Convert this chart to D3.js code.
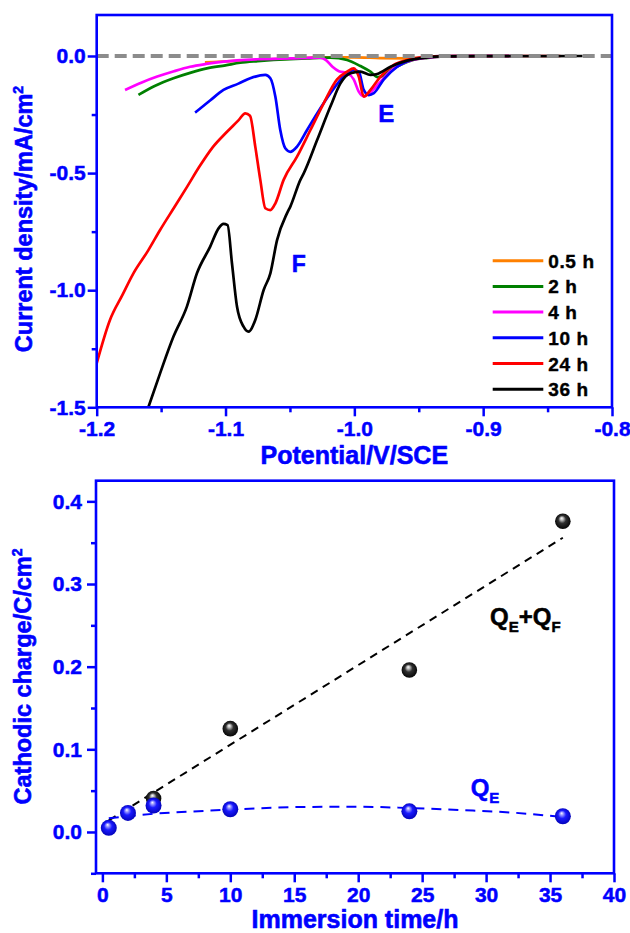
<!DOCTYPE html>
<html>
<head>
<meta charset="utf-8">
<script src="https://cdn.jsdelivr.net/npm/d3@7"></script>
<style>
  html, body { margin: 0; padding: 0; background: #fff; }
  svg { display: block; }
  text { font-family: "Liberation Sans", Arial, Helvetica, sans-serif; font-weight: bold; }
</style>
</head>
<body>
<svg id="chart" width="630" height="933"></svg>
<script>
// ---------------- DATA ----------------
// Top panel: polarization curves, [potential V vs SCE, current density mA/cm^2]
const seriesNames = ["0.5 h", "2 h", "4 h", "10 h", "24 h", "36 h"];
const seriesColors = ["#ff8000", "#008000", "#ff00ff", "#0000ff", "#ff0000", "#000000"];

const curve05h = [[-1.116,-0.027],[-1.095,-0.022],[-1.076,-0.017],[-1.05,-0.011],[-1.024,-0.006],[-1.0,-0.006],
  [-0.98,-0.009],[-0.96,-0.010],[-0.95,-0.008],[-0.94,-0.003],[-0.92,-0.001],[-0.88,0]];
const curve2h = [[-1.1676,-0.166],[-1.155,-0.128],[-1.1404,-0.095],[-1.1275,-0.072],[-1.1145,-0.053],[-1.10,-0.040],
  [-1.0886,-0.029],[-1.075,-0.022],[-1.0627,-0.017],[-1.05,-0.013],[-1.0367,-0.010],[-1.0186,-0.007],[-1.0056,-0.017],
  [-0.9953,-0.043],[-0.9875,-0.067],[-0.982,-0.090],[-0.978,-0.085],[-0.972,-0.062],[-0.964,-0.038],[-0.955,-0.018],
  [-0.943,-0.008],[-0.93,-0.002],[-0.91,0],[-0.88,0]];
const curve4h = [[-1.178,-0.145],[-1.165,-0.113],[-1.153,-0.088],[-1.14,-0.065],[-1.1275,-0.046],[-1.115,-0.034],
  [-1.1016,-0.024],[-1.0756,-0.014],[-1.0497,-0.010],[-1.0264,-0.007],[-1.022,-0.018],[-1.017,-0.046],[-1.012,-0.065],
  [-1.0056,-0.073],[-1.0005,-0.10],[-0.9966,-0.152],[-0.9927,-0.172],[-0.988,-0.158],[-0.98,-0.112],[-0.972,-0.065],
  [-0.964,-0.035],[-0.955,-0.017],[-0.943,-0.007],[-0.93,-0.002],[-0.91,0],[-0.88,0]];
const curve10h = [[-1.1236,-0.242],[-1.112,-0.19],[-1.1016,-0.145],[-1.09,-0.118],[-1.0808,-0.095],[-1.0691,-0.081],
  [-1.0652,-0.095],[-1.0613,-0.174],[-1.0575,-0.316],[-1.0536,-0.394],[-1.0497,-0.409],[-1.0445,-0.387],[-1.0367,-0.316],
  [-1.0289,-0.245],[-1.0186,-0.159],[-1.0082,-0.088],[-1.0005,-0.060],[-0.9966,-0.067],[-0.9927,-0.145],[-0.9888,-0.167],
  [-0.9849,-0.159],[-0.9771,-0.10],[-0.9667,-0.046],[-0.9564,-0.017],[-0.945,-0.006],[-0.93,-0.001],[-0.90,0],[-0.87,0]];
const curve24h = [[-1.2,-1.312],[-1.1897,-1.127],[-1.18,-1.02],[-1.1715,-0.928],[-1.16,-0.83],[-1.1508,-0.743],
  [-1.14,-0.648],[-1.13,-0.56],[-1.12,-0.47],[-1.11,-0.39],[-1.10,-0.33],[-1.09,-0.275],[-1.0847,-0.245],[-1.081,-0.255],
  [-1.0769,-0.387],[-1.073,-0.529],[-1.0691,-0.650],[-1.0652,-0.658],[-1.0613,-0.629],[-1.0549,-0.529],[-1.0445,-0.430],
  [-1.0341,-0.316],[-1.0238,-0.202],[-1.0134,-0.10],[-1.0056,-0.067],[-1.0005,-0.053],[-0.9966,-0.088],[-0.9927,-0.174],
  [-0.9875,-0.145],[-0.9797,-0.088],[-0.9694,-0.038],[-0.959,-0.017],[-0.945,-0.005],[-0.93,-0.001],[-0.90,0],[-0.84,0]];
const curve36h = [[-1.1599,-1.5],[-1.1508,-1.355],[-1.1404,-1.198],[-1.13,-1.070],[-1.1222,-0.928],[-1.1119,-0.814],
  [-1.1054,-0.736],[-1.1016,-0.717],[-1.0984,-0.722],[-1.095,-0.885],[-1.0911,-1.070],[-1.086,-1.156],[-1.0821,-1.177],
  [-1.0769,-1.127],[-1.0704,-0.999],[-1.0652,-0.928],[-1.06,-0.786],[-1.0523,-0.672],[-1.0497,-0.643],[-1.0419,-0.529],
  [-1.0393,-0.501],[-1.0289,-0.359],[-1.0186,-0.216],[-1.0108,-0.117],[-1.003,-0.074],[-0.9953,-0.067],[-0.9875,-0.081],
  [-0.9823,-0.077],[-0.9719,-0.046],[-0.959,-0.020],[-0.945,-0.007],[-0.93,-0.002],[-0.90,-0.001],[-0.85,-0.001],[-0.8229,0]];
const seriesData = [curve05h, curve2h, curve4h, curve10h, curve24h, curve36h];

const potentialTicks = [-1.2, -1.1, -1.0, -0.9, -0.8];
const currentTicks = [0.0, -0.5, -1.0, -1.5];

// Bottom panel: cathodic charge vs immersion time
const immersionTimes = [0.5, 2, 4, 10, 24, 36];
const chargeQE = [0.005, 0.023, 0.032, 0.0275, 0.025, 0.019];
const totalTimes = [4, 10, 24, 36];
const chargeQEQF = [0.0405, 0.125, 0.196, 0.376];
const fitTotalX = [0.5, 36];
const fitTotalY = [0.014, 0.356];
const fitQEX = [0.5, 2, 4, 8, 12, 16, 20, 24, 28, 32, 36];
const fitQEY = [0.0165, 0.019, 0.022, 0.0255, 0.0285, 0.0303, 0.0305, 0.029, 0.0265, 0.0235, 0.018];
const timeTicks = [0, 5, 10, 15, 20, 25, 30, 35, 40];
const chargeTicks = [0.0, 0.1, 0.2, 0.3, 0.4];

// ---------------- DRAW ----------------
const svg = d3.select("#chart");
const BLUE = "#0000ff";
const fmt1 = d => d.toFixed(1);

function styleAxis(g) {
  g.selectAll("path.domain").remove();
  g.selectAll(".tick line").attr("stroke", BLUE).attr("stroke-width", 2.5);
  g.selectAll(".tick text").attr("fill", BLUE).attr("stroke", BLUE).attr("stroke-width", 0.5)
    .style("font-size", "21px").style("font-weight", "bold");
}

// ===== Top panel =====
const T = { left: 96.7, right: 612, top: 15, bottom: 407.3 };
const xT = d3.scaleLinear().domain([-1.2, -0.8]).range([T.left, T.right]);
const yT = d3.scaleLinear().domain([-1.5, 0.175]).range([T.bottom, T.top]);

svg.append("clipPath").attr("id", "clipT").append("rect")
  .attr("x", T.left).attr("y", T.top).attr("width", T.right - T.left).attr("height", T.bottom - T.top);

const lineT = d3.line().x(d => xT(d[0])).y(d => yT(d[1])).curve(d3.curveMonotoneX);
const gCurves = svg.append("g").attr("clip-path", "url(#clipT)");
seriesData.forEach((data, i) => {
  gCurves.append("path").attr("d", lineT(data)).attr("fill", "none")
    .attr("stroke", seriesColors[i]).attr("stroke-width", 2.7).attr("stroke-linejoin", "round");
});
// zero reference line (drawn above curves)
gCurves.append("path").attr("d", lineT([[-1.2, 0], [-0.8, 0]])).attr("fill", "none")
  .attr("stroke", "#8c8c8c").attr("stroke-width", 4).attr("stroke-dasharray", "12,6");

// axes top
const gxT = svg.append("g").attr("transform", `translate(0,${T.bottom})`)
  .call(d3.axisBottom(xT).tickValues(potentialTicks).tickFormat(fmt1).tickSize(9).tickSizeOuter(0).tickPadding(5));
styleAxis(gxT);
const gxTm = svg.append("g").attr("transform", `translate(0,${T.bottom})`)
  .call(d3.axisBottom(xT).tickValues(d3.range(-1.15, -0.8, 0.1)).tickFormat("").tickSize(5).tickSizeOuter(0));
styleAxis(gxTm);
const gyT = svg.append("g").attr("transform", `translate(${T.left},0)`)
  .call(d3.axisLeft(yT).tickValues(currentTicks).tickFormat(fmt1).tickSize(9).tickSizeOuter(0).tickPadding(2));
styleAxis(gyT);
const gyTm = svg.append("g").attr("transform", `translate(${T.left},0)`)
  .call(d3.axisLeft(yT).tickValues([-0.25, -0.75, -1.25]).tickFormat("").tickSize(5).tickSizeOuter(0));
styleAxis(gyTm);

svg.append("rect").attr("x", T.left).attr("y", T.top).attr("width", T.right - T.left).attr("height", T.bottom - T.top)
  .attr("fill", "none").attr("stroke", BLUE).attr("stroke-width", 2.6);

// legend
const leg = svg.append("g");
seriesNames.forEach((name, i) => {
  const cy = 260.7 + i * 25.7;
  leg.append("line").attr("x1", 492.7).attr("x2", 543.3).attr("y1", cy).attr("y2", cy)
    .attr("stroke", seriesColors[i]).attr("stroke-width", 3);
  leg.append("text").attr("x", 548.3).attr("y", cy + 7).attr("fill", "#000").attr("stroke", "#000").attr("stroke-width", 0.4)
    .style("font-size", "19px").style("letter-spacing", "0.6px").text(name);
});

// peak labels
svg.append("text").attr("x", 378.3).attr("y", 121.7).attr("fill", BLUE).attr("stroke", BLUE).attr("stroke-width", 0.5)
  .style("font-size", "24px").text("E");
svg.append("text").attr("x", 291.7).attr("y", 271.7).attr("fill", BLUE).attr("stroke", BLUE).attr("stroke-width", 0.5)
  .style("font-size", "23px").text("F");

// titles top
svg.append("text").attr("x", (T.left + T.right) / 2).attr("y", 464).attr("text-anchor", "middle")
  .attr("fill", BLUE).attr("stroke", BLUE).attr("stroke-width", 0.6).style("font-size", "25px").text("Potential/V/SCE");
const ytT = svg.append("text").attr("transform", "translate(32,219) rotate(-90)").attr("text-anchor", "middle")
  .attr("fill", BLUE).attr("stroke", BLUE).attr("stroke-width", 0.6).style("font-size", "23.5px");
ytT.append("tspan").text("Current density/mA/cm");
ytT.append("tspan").attr("dy", -9).style("font-size", "14px").text("2");

// ===== Bottom panel =====
const B = { left: 96, right: 614, top: 480.7, bottom: 873.3 };
const xB = d3.scaleLinear().domain([-0.5, 40]).range([B.left, B.right]);
const yB = d3.scaleLinear().domain([-0.05, 0.425]).range([B.bottom, B.top]);

// gradients for sphere markers
const defs = svg.append("defs");
function sphereGrad(id, stops) {
  const g = defs.append("radialGradient").attr("id", id)
    .attr("cx", "50%").attr("cy", "50%").attr("r", "55%").attr("fx", "42%").attr("fy", "30%");
  stops.forEach(s => g.append("stop").attr("offset", s[0]).attr("stop-color", s[1]));
}
sphereGrad("gBlack", [["0%", "#ffffff"], ["18%", "#bdbdbd"], ["45%", "#303030"], ["100%", "#000000"]]);
sphereGrad("gBlue", [["0%", "#ffffff"], ["18%", "#9a9aff"], ["45%", "#1a1aff"], ["100%", "#0000b0"]]);

const lineB = d3.line().x(d => xB(d[0])).y(d => yB(d[1]));
svg.append("path").attr("d", lineB(fitTotalX.map((x, i) => [x, fitTotalY[i]])))
  .attr("fill", "none").attr("stroke", "#000").attr("stroke-width", 2).attr("stroke-dasharray", "8,6");
svg.append("path").attr("d", lineB.curve(d3.curveMonotoneX)(fitQEX.map((x, i) => [x, fitQEY[i]])))
  .attr("fill", "none").attr("stroke", BLUE).attr("stroke-width", 2).attr("stroke-dasharray", "10,7");

svg.append("g").selectAll("circle").data(totalTimes.map((t, i) => [t, chargeQEQF[i]])).join("circle")
  .attr("cx", d => xB(d[0])).attr("cy", d => yB(d[1])).attr("r", 7.8).attr("fill", "url(#gBlack)");
svg.append("g").selectAll("circle").data(immersionTimes.map((t, i) => [t, chargeQE[i]])).join("circle")
  .attr("cx", d => xB(d[0])).attr("cy", d => yB(d[1])).attr("r", 8).attr("fill", "url(#gBlue)");

const gxB = svg.append("g").attr("transform", `translate(0,${B.bottom})`)
  .call(d3.axisBottom(xB).tickValues(timeTicks).tickFormat(d3.format("d")).tickSize(9).tickSizeOuter(0).tickPadding(5));
styleAxis(gxB);
const gxBm = svg.append("g").attr("transform", `translate(0,${B.bottom})`)
  .call(d3.axisBottom(xB).tickValues(d3.range(2.5, 40, 5)).tickFormat("").tickSize(5).tickSizeOuter(0));
styleAxis(gxBm);
const gyB = svg.append("g").attr("transform", `translate(${B.left},0)`)
  .call(d3.axisLeft(yB).tickValues(chargeTicks).tickFormat(fmt1).tickSize(9).tickSizeOuter(0).tickPadding(5));
styleAxis(gyB);
const gyBm = svg.append("g").attr("transform", `translate(${B.left},0)`)
  .call(d3.axisLeft(yB).tickValues([-0.05, 0.05, 0.15, 0.25, 0.35]).tickFormat("").tickSize(5).tickSizeOuter(0));
styleAxis(gyBm);

svg.append("rect").attr("x", B.left).attr("y", B.top).attr("width", B.right - B.left).attr("height", B.bottom - B.top)
  .attr("fill", "none").attr("stroke", BLUE).attr("stroke-width", 2.6);

// annotations
const tq = svg.append("text").attr("x", 490).attr("y", 625).attr("fill", "#000").attr("stroke", "#000").attr("stroke-width", 0.5)
  .style("font-size", "24px");
tq.append("tspan").text("Q");
tq.append("tspan").attr("dy", 7).style("font-size", "15px").text("E");
tq.append("tspan").attr("dy", -7).text("+Q");
tq.append("tspan").attr("dy", 7).style("font-size", "15px").text("F");
const tqe = svg.append("text").attr("x", 470.7).attr("y", 796).attr("fill", BLUE).attr("stroke", BLUE).attr("stroke-width", 0.5)
  .style("font-size", "24px");
tqe.append("tspan").text("Q");
tqe.append("tspan").attr("dy", 7).style("font-size", "15px").text("E");

// titles bottom
svg.append("text").attr("x", (B.left + B.right) / 2).attr("y", 928).attr("text-anchor", "middle")
  .attr("fill", BLUE).attr("stroke", BLUE).attr("stroke-width", 0.6).style("font-size", "25px").text("Immersion time/h");
const ytB = svg.append("text").attr("transform", "translate(31,676.5) rotate(-90)").attr("text-anchor", "middle")
  .attr("fill", BLUE).attr("stroke", BLUE).attr("stroke-width", 0.6).style("font-size", "23.5px");
ytB.append("tspan").text("Cathodic charge/C/cm");
ytB.append("tspan").attr("dy", -9).style("font-size", "14px").text("2");
</script>
</body>
</html>
